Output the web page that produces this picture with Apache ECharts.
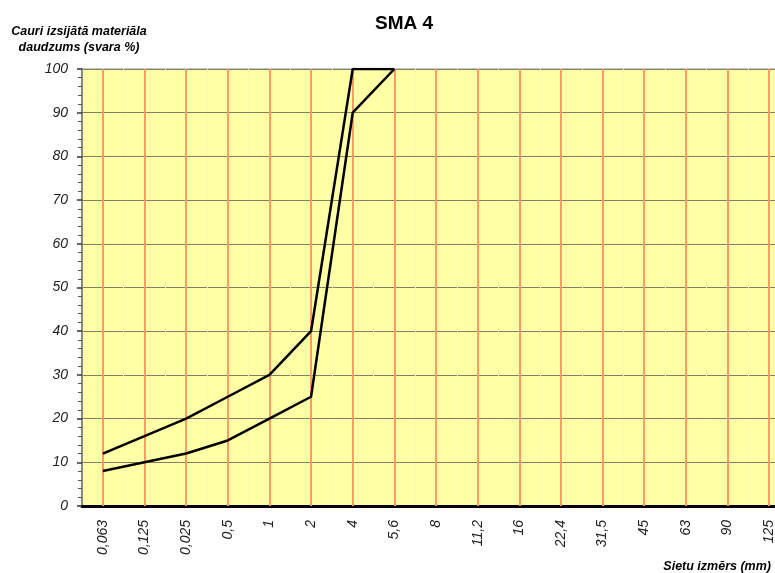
<!DOCTYPE html>
<html>
<head>
<meta charset="utf-8">
<script src="https://cdn.jsdelivr.net/npm/echarts@6/dist/echarts.min.js"></script>
<style>
html,body{margin:0;padding:0;background:#fff;}
#c{width:775px;height:573px;}
</style>
</head>
<body>
<div id="c"></div>
<script>
const categories = ['0,063','0,125','0,025','0,5','1','2','4','5,6','8','11,2','16','22,4','31,5','45','63','90','125'];
const upperValues = [12,16,20,25,30,40,100,100];
const lowerValues = [8,10,12,15,20,25,90,100];
const yTicks = {min:0, max:100, interval:10};
const titleText = 'SMA 4';
const yName = 'Cauri izsijātā materiāla\ndaudzums (svara %)';
const xName = 'Sietu izmērs (mm)';

const chart = echarts.init(document.getElementById('c'), null, {renderer:'canvas'});
const font = '"Liberation Sans", Arial, sans-serif';
chart.setOption({
  animation:false,
  backgroundColor:'#ffffff',
  title:{text:titleText,left:370,top:9,textStyle:{fontFamily:font,fontSize:19,fontWeight:'bold',color:'#000'}},
  graphic:[
    {type:'text',x:79,y:24,style:{text:yName,align:'center',verticalAlign:'top',font:'italic bold 12.5px '+font,fill:'#000',lineHeight:16}},
    {type:'text',x:771,y:567,style:{text:xName,align:'right',verticalAlign:'middle',font:'italic bold 12.5px '+font,fill:'#000'}}
  ],
  grid:{left:82,width:708,top:69,bottom:67,outerBoundsMode:'none',containLabel:false,show:true,backgroundColor:'#FFFFA6',borderColor:'#909090',borderWidth:1},
  xAxis:{
    type:'category',data:categories,boundaryGap:true,
    axisLine:{show:true,lineStyle:{color:'#000',width:3}},
    axisTick:{show:false},
    axisLabel:{rotate:90,margin:14,fontFamily:font,fontStyle:'italic',fontSize:14,color:'#222',interval:0},
    splitLine:{show:true,interval:0,lineStyle:{color:'#F6F6BC',type:'dotted',width:1}}
  },
  yAxis:{
    type:'value',min:yTicks.min,max:yTicks.max,interval:yTicks.interval,
    axisLine:{show:true,lineStyle:{color:'#707070',width:1.5}},
    axisTick:{show:true,length:5,lineStyle:{color:'#333',width:1.5}},
    minorTick:{show:true,splitNumber:5,length:4,lineStyle:{color:'#555'}},
    axisLabel:{margin:14,fontFamily:font,fontStyle:'italic',fontSize:14,color:'#222'},
    splitLine:{show:true,lineStyle:{color:'#808066',width:1.2}}
  },
  series:[
    {type:'line',data:[],z:1,silent:true,
     markLine:{silent:true,symbol:'none',label:{show:false},
       lineStyle:{color:'#FF9966',width:2,type:'solid'},
       data:categories.map(c=>({xAxis:c}))}},
    {type:'line',data:upperValues,z:5,symbol:'none',lineStyle:{color:'#000',width:2.5}},
    {type:'line',data:lowerValues,z:5,symbol:'none',lineStyle:{color:'#000',width:2.5}}
  ]
});
</script>
</body>
</html>
